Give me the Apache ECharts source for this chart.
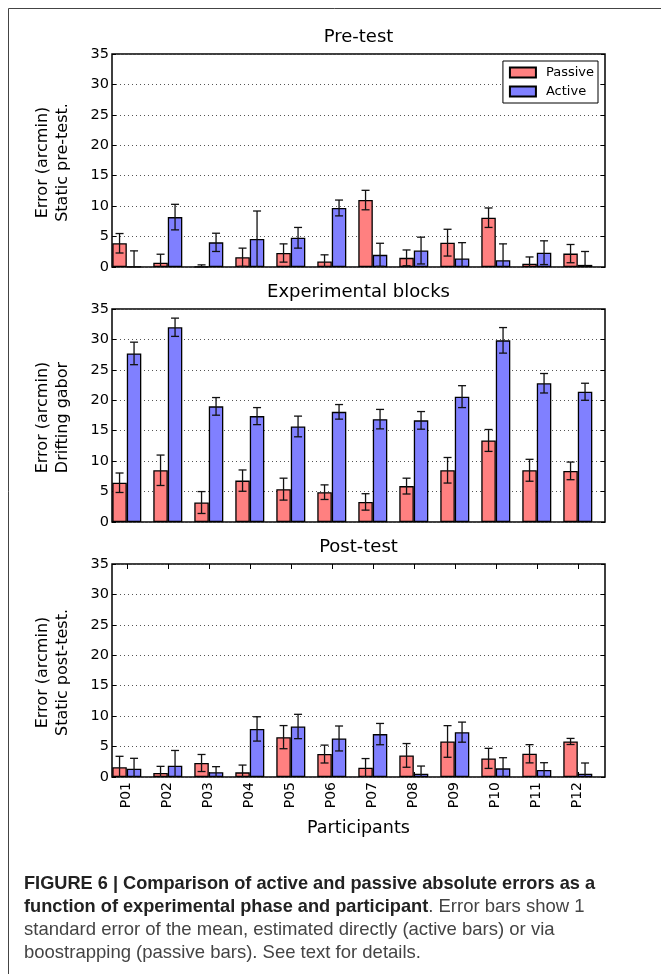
<!DOCTYPE html>
<html>
<head>
<meta charset="utf-8">
<script src="https://cdn.jsdelivr.net/npm/echarts@6/dist/echarts.min.js"></script>
<style>
html,body{margin:0;padding:0;background:#fff;}
#chart{width:661px;height:974px;}
</style>
</head>
<body>
<div id="chart"></div>
<script>
// ---- data ----
var participants = ['P01','P02','P03','P04','P05','P06','P07','P08','P09','P10','P11','P12'];
var yTicks = [0, 5, 10, 15, 20, 25, 30, 35];
var panelTitles = ['Pre-test', 'Experimental blocks', 'Post-test'];
var panelYNames = ['Error (arcmin)\nStatic pre-test.', 'Error (arcmin)\nDrifting gabor', 'Error (arcmin)\nStatic post-test.'];

var prePassive    = [3.9, 0.7, 0.05, 1.6, 2.3, 0.9, 11.0, 1.5, 4.0, 8.1, 0.55, 2.2];
var prePassiveErr = [1.6, 1.4, 0.3, 1.5, 1.5, 1.1, 1.6, 1.3, 2.2, 1.6, 1.1, 1.5];
var preActive     = [0.05, 8.2, 4.05, 4.6, 4.8, 9.7, 2.0, 2.7, 1.4, 1.1, 2.35, 0.35];
var preActiveErr  = [2.6, 2.1, 1.5, 4.6, 1.7, 1.3, 1.9, 2.2, 2.6, 2.7, 1.95, 2.2];

var expPassive    = [6.45, 8.5, 3.2, 6.8, 5.4, 4.9, 3.3, 5.9, 8.5, 13.4, 8.5, 8.4];
var expPassiveErr = [1.6, 2.5, 1.8, 1.75, 1.8, 1.2, 1.35, 1.3, 2.1, 1.8, 1.8, 1.45];
var expActive     = [27.7, 32.0, 19.0, 17.4, 15.7, 18.1, 16.9, 16.7, 20.6, 29.85, 22.8, 21.4];
var expActiveErr  = [1.85, 1.5, 1.45, 1.4, 1.7, 1.2, 1.6, 1.45, 1.8, 2.1, 1.6, 1.4];

var postPassive    = [1.6, 0.65, 2.3, 0.76, 6.55, 3.77, 1.53, 3.55, 5.84, 3.06, 3.82, 5.84];
var postPassiveErr = [1.8, 1.1, 1.4, 1.2, 1.9, 1.47, 1.5, 1.95, 2.6, 1.65, 1.5, 0.5];
var postActive     = [1.37, 1.86, 0.8, 7.9, 8.3, 6.33, 7.05, 0.55, 7.37, 1.42, 1.15, 0.55];
var postActiveErr  = [1.7, 2.5, 0.9, 2.0, 2.0, 2.05, 1.75, 1.25, 1.65, 1.75, 1.2, 1.75];

// ---- layout / style ----
var FONT = 'DejaVu Sans';
var PASSIVE_COLOR = '#FF8080';
var ACTIVE_COLOR = '#8080FF';
var panelTops = [54, 309, 564];
var panelH = 213;
var frameLeft = 112, frameRight = 605;
var barsLeft = 106.3, barsWidth = 492;
var BAR_W = 14.5;

var panels = [
  {p: prePassive, pe: prePassiveErr, a: preActive, ae: preActiveErr},
  {p: expPassive, pe: expPassiveErr, a: expActive, ae: expActiveErr},
  {p: postPassive, pe: postPassiveErr, a: postActive, ae: postActiveErr}
];

var grids = [], xAxes = [], yAxes = [], series = [], graphics = [];

function errRender(offset) {
  return function (params, api) {
    var idx = api.value(0), v = api.value(1), e = api.value(2);
    var top = api.coord([idx, v + e]);
    var lowV = v - e;
    var bot = api.coord([idx, Math.max(0, lowV)]);
    var x = top[0] + offset;
    var st = {stroke: '#111', lineWidth: 1.3};
    var children = [
      {type: 'line', shape: {x1: x, y1: top[1], x2: x, y2: bot[1]}, style: st},
      {type: 'line', shape: {x1: x - 4, y1: top[1], x2: x + 4, y2: top[1]}, style: st}
    ];
    if (lowV > 0) {
      children.push({type: 'line', shape: {x1: x - 4, y1: bot[1], x2: x + 4, y2: bot[1]}, style: st});
    }
    return {type: 'group', children: children};
  };
}

panels.forEach(function (pd, k) {
  var top = panelTops[k];
  var isLast = (k === 2);
  // frame grid
  grids.push({left: frameLeft, width: frameRight - frameLeft, top: top, height: panelH,
    show: true, borderColor: '#000', borderWidth: 1.5, backgroundColor: 'transparent'});
  var fg = grids.length - 1;
  // bars grid
  grids.push({left: barsLeft, width: barsWidth, top: top, height: panelH});
  var bg = grids.length - 1;

  // frame axes
  xAxes.push({gridIndex: fg, type: 'value', min: 0, max: 1, show: false});
  yAxes.push({gridIndex: fg, type: 'value', min: yTicks[0], max: yTicks[yTicks.length - 1], interval: 5,
    position: 'left',
    axisLine: {show: false},
    axisTick: {show: true, inside: true, length: 4, lineStyle: {color: '#000', width: 1}},
    axisLabel: {show: true, fontFamily: FONT, fontSize: 14.5, color: '#000', margin: 3},
    splitLine: {show: true, lineStyle: {color: '#555', width: 1, type: [1, 3]}}
  });
  yAxes.push({gridIndex: fg, type: 'value', min: yTicks[0], max: yTicks[yTicks.length - 1], interval: 5,
    position: 'right',
    axisLine: {show: false},
    axisTick: {show: true, inside: true, length: 4, lineStyle: {color: '#000', width: 1}},
    axisLabel: {show: false},
    splitLine: {show: false}
  });

  // bars axes
  xAxes.push({gridIndex: bg, type: 'category', data: participants, position: 'bottom',
    axisLine: {show: false},
    axisTick: {show: isLast, inside: true, alignWithLabel: true, length: 5, lineStyle: {color: '#000', width: 1}},
    axisLabel: {show: isLast, rotate: 90, fontFamily: FONT, fontSize: 14, color: '#000', margin: 5},
    splitLine: {show: false}
  });
  var bxa = xAxes.length - 1;
  xAxes.push({gridIndex: bg, type: 'category', data: participants, position: 'top',
    axisLine: {show: false},
    axisTick: {show: isLast, inside: true, alignWithLabel: true, length: 5, lineStyle: {color: '#000', width: 1}},
    axisLabel: {show: false},
    splitLine: {show: false}
  });
  yAxes.push({gridIndex: bg, type: 'value', min: yTicks[0], max: yTicks[yTicks.length - 1], show: false});
  var bya = yAxes.length - 1;

  series.push({name: 'Passive', type: 'bar', xAxisIndex: bxa, yAxisIndex: bya,
    data: pd.p, barWidth: BAR_W, barGap: '0%',
    itemStyle: {color: PASSIVE_COLOR, borderColor: '#000', borderWidth: 1.3}, z: 3});
  series.push({name: 'Active', type: 'bar', xAxisIndex: bxa, yAxisIndex: bya,
    data: pd.a, barWidth: BAR_W, barGap: '0%',
    itemStyle: {color: ACTIVE_COLOR, borderColor: '#000', borderWidth: 1.3}, z: 3});
  series.push({type: 'custom', xAxisIndex: bxa, yAxisIndex: bya, clip: true, z: 5,
    renderItem: errRender(-BAR_W / 2), encode: {x: 0, y: 1},
    data: pd.p.map(function (v, i) { return [i, v, pd.pe[i]]; })});
  series.push({type: 'custom', xAxisIndex: bxa, yAxisIndex: bya, clip: true, z: 5,
    renderItem: errRender(BAR_W / 2), encode: {x: 0, y: 1},
    data: pd.a.map(function (v, i) { return [i, v, pd.ae[i]]; })});

  // titles
  graphics.push({type: 'text', x: (frameLeft + frameRight) / 2, y: top - 17,
    style: {text: panelTitles[k], font: '18px "' + FONT + '"', fill: '#000', textAlign: 'center', textVerticalAlign: 'middle'}});
  // y names
  graphics.push({type: 'text', x: 53, y: top + panelH / 2 + 2, rotation: Math.PI / 2,
    style: {text: panelYNames[k], font: '16px "' + FONT + '"', fill: '#000', textAlign: 'center', textVerticalAlign: 'middle', lineHeight: 20}});
});

// x axis name
graphics.push({type: 'text', x: (frameLeft + frameRight) / 2, y: 828,
  style: {text: 'Participants', font: '17.5px "' + FONT + '"', fill: '#000', textAlign: 'center', textVerticalAlign: 'middle'}});

// figure frame
graphics.push({type: 'polyline', shape: {points: [[8.5, 974], [8.5, 8.5], [661, 8.5]]},
  style: {stroke: '#444', lineWidth: 1, fill: null}});

// caption
graphics.push({type: 'text', x: 24, y: 872,
  style: {
    text: '{b|FIGURE 6 | Comparison of active and passive absolute errors as a}\n' +
          '{b|function of experimental phase and participant}{n|. Error bars show 1}\n' +
          '{n|standard error of the mean, estimated directly (active bars) or via}\n' +
          '{n|boostrapping (passive bars). See text for details.}',
    lineHeight: 23,
    rich: {
      b: {fontFamily: 'Liberation Sans', fontWeight: 'bold', fontSize: 18.2, fill: '#222', lineHeight: 23},
      n: {fontFamily: 'Liberation Sans', fontWeight: 'normal', fontSize: 18.5, fill: '#444', lineHeight: 23}
    }
  }});

var chart = echarts.init(document.getElementById('chart'), null, {renderer: 'canvas'});
chart.setOption({
  animation: false,
  backgroundColor: '#fff',
  grid: grids,
  xAxis: xAxes,
  yAxis: yAxes,
  legend: {
    data: [{name: 'Passive', icon: 'rect'}, {name: 'Active', icon: 'rect'}],
    orient: 'vertical',
    right: 63, top: 61,
    itemWidth: 26, itemHeight: 10, itemGap: 6,
    padding: [5, 4, 5, 6],
    backgroundColor: '#fff', borderColor: '#000', borderWidth: 1,
    selectedMode: false,
    textStyle: {fontFamily: FONT, fontSize: 13, color: '#000', padding: [0, 0, 0, 5]},
    z: 10
  },
  series: series,
  graphic: graphics
});
</script>
</body>
</html>
